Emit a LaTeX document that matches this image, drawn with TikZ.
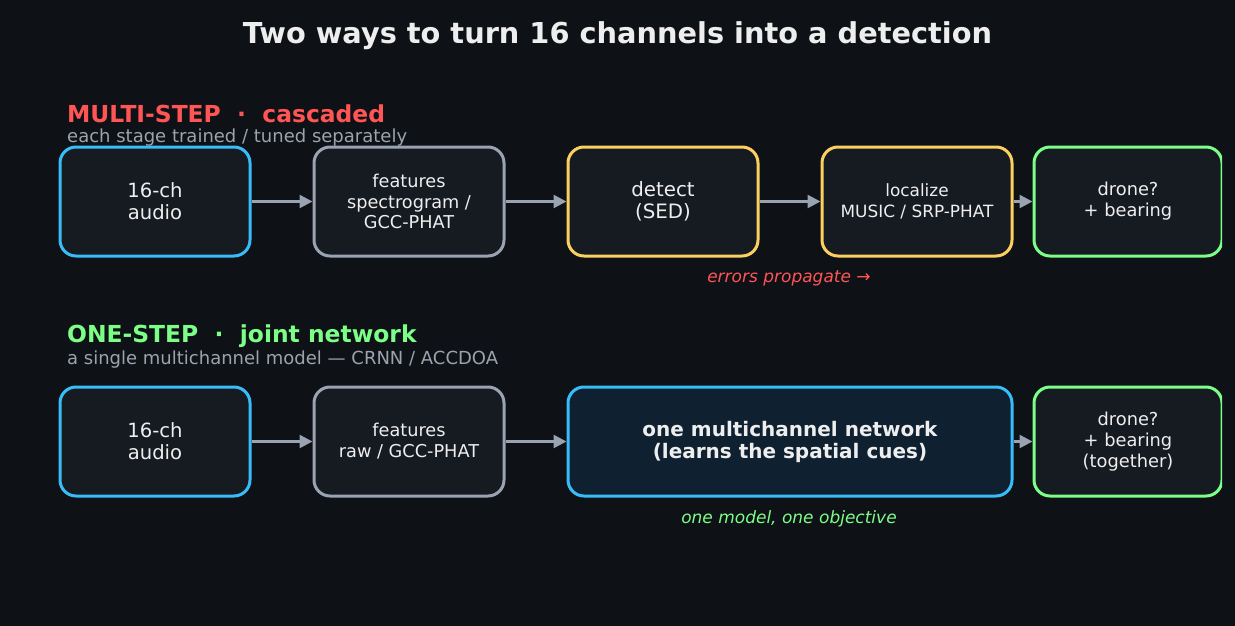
\documentclass[tikz,border=0pt]{standalone}
\usepackage{fontspec}
\setmainfont{DejaVu Sans}
\usetikzlibrary{arrows.meta}
\definecolor{bg}{HTML}{0E1116}
\definecolor{boxfill}{HTML}{161A21}
\definecolor{netfill}{HTML}{0F2130}
\definecolor{cblue}{HTML}{38BDF8}
\definecolor{cgray}{HTML}{9AA3B1}
\definecolor{cyellow}{HTML}{FCD060}
\definecolor{cgreen}{HTML}{7CFF86}
\definecolor{cred}{HTML}{FF5555}
\definecolor{ctext}{HTML}{EEEEEE}
\definecolor{csub}{HTML}{9CA3AF}
\tikzset{
  stagebox/.style={draw, line width=3pt, rounded corners=16pt, fill=boxfill,
    minimum width=190pt, minimum height=109pt, align=center, text=ctext,
    inner sep=2pt},
  arr/.style={draw=cgray, line width=2.5pt, -{Triangle[length=13pt,width=13pt]}},
  hdr/.style={anchor=west, inner sep=0pt, font=\fontsize{23.4}{27}\selectfont\bfseries},
  sub/.style={anchor=west, inner sep=0pt, text=csub, font=\fontsize{18}{21}\selectfont},
  note/.style={inner sep=0pt, font=\fontsize{17}{20}\selectfont\itshape},
}
\begin{document}
\begin{tikzpicture}[x=1pt,y=-1pt]
\fill[bg] (0,0) rectangle (1235,626);
\useasboundingbox (0,0) rectangle (1235,626);

\node[text=ctext, font=\fontsize{28.8}{34}\selectfont\bfseries] (title) at (617.5,36) {Two ways to turn 16 channels into a detection};

% multi-step
\node[hdr, text=cred] (h1) at (67,114) {MULTI-STEP\hspace{0.7em}·\hspace{0.7em}cascaded};
\node[sub] (s1) at (67,137.5) {each stage trained / tuned separately};

\begin{scope}
\clip (0,0) rectangle (1222,626);
\node[stagebox, draw=cblue, font=\fontsize{19.6}{22}\selectfont] (a1) at (155,201.5) {16-ch\\audio};
\node[stagebox, draw=cgray, font=\fontsize{17.7}{20.5}\selectfont] (a2) at (409,201.5) {features\\spectrogram /\\GCC-PHAT};
\node[stagebox, draw=cyellow, font=\fontsize{19.8}{22}\selectfont] (a3) at (663,201.5) {detect\\(SED)};
\node[stagebox, draw=cyellow, font=\fontsize{16.9}{21}\selectfont] (a4) at (917,201.5) {localize\\MUSIC / SRP-PHAT};
\node[stagebox, draw=cgreen, minimum width=188pt, font=\fontsize{17.8}{21}\selectfont] (a5) at (1128,201.5) {drone?\\+ bearing};

\node[stagebox, draw=cblue, font=\fontsize{19.6}{22}\selectfont] (b1) at (155,441.5) {16-ch\\audio};
\node[stagebox, draw=cgray, font=\fontsize{17.7}{21}\selectfont] (b2) at (409,441.5) {features\\raw / GCC-PHAT};
\node[stagebox, draw=cblue, fill=netfill, minimum width=444pt, font=\fontsize{20}{22}\selectfont\bfseries] (b3) at (790,441.5) {one multichannel network\\(learns the spatial cues)};
\node[stagebox, draw=cgreen, minimum width=188pt, font=\fontsize{17.8}{21}\selectfont] (b4) at (1128,441.5) {drone?\\+ bearing\\(together)};
\end{scope}

\draw[arr] (a1) -- (a2);
\draw[arr] (a2) -- (a3);
\draw[arr] (a3) -- (a4);
\draw[arr] (a4) -- (a5);
\draw[arr] (b1) -- (b2);
\draw[arr] (b2) -- (b3);
\draw[arr] (b3) -- (b4);

\node[note, text=cred] (n1) at (789,278.5) {errors propagate →};

% one-step
\node[hdr, text=cgreen] (h2) at (67,336) {ONE-STEP\hspace{0.7em}·\hspace{0.7em}joint network};
\node[sub] (s2) at (67,359.5) {a single multichannel model — CRNN / ACCDOA};

\node[note, text=cgreen] (n2) at (789,519) {one model, one objective};
\end{tikzpicture}
\end{document}
